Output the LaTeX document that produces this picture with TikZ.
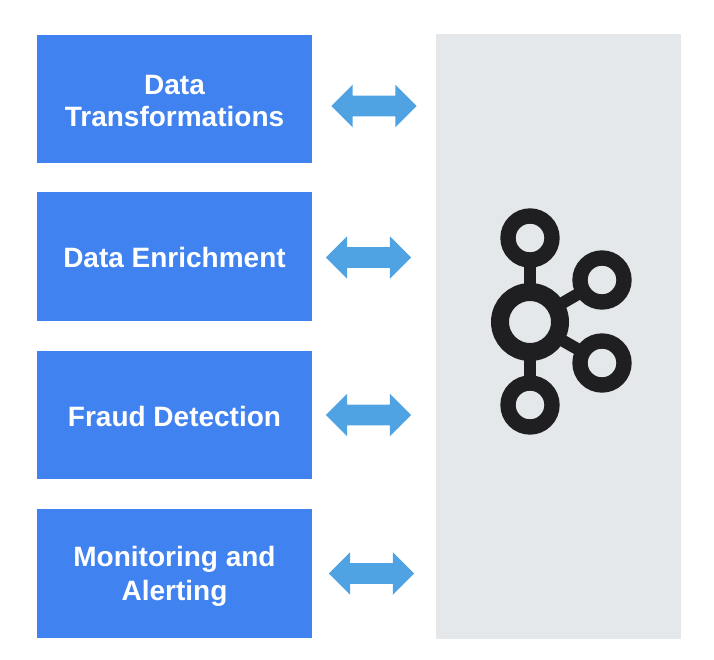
\documentclass[tikz,border=0pt]{standalone}
\usepackage{fontspec}
\setmainfont{Liberation Sans}
\usetikzlibrary{shapes.arrows}
\definecolor{boxblue}{HTML}{3F82F0}
\definecolor{arrowblue}{HTML}{4FA3E3}
\definecolor{panelgrey}{HTML}{E5E8EB}
\definecolor{ringblack}{HTML}{1F1F21}
\newcommand{\dropline}[2]{\raisebox{-#1}[\height][\depth]{#2}}
\tikzset{
  stagebox/.style={rectangle, fill=boxblue, text=white, align=center, minimum width=206.25pt, minimum height=96.5pt, inner sep=0pt, font=\fontsize{21}{24.5}\selectfont\bfseries},
  linkarrow/.style={double arrow, fill=arrowblue, minimum width=31.5pt, minimum height=64pt, inner sep=0pt, text width=0pt, text height=15pt, double arrow head extend=8.25pt, double arrow tip angle=90, double arrow head indent=0pt},
  outerring/.style={circle, draw=ringblack, line width=11.5pt, minimum size=33pt, inner sep=0pt, outer sep=0pt},
  hubring/.style={circle, draw=ringblack, line width=13.5pt, minimum size=45pt, inner sep=0pt, outer sep=0pt},
  spoke/.style={draw=ringblack, line width=9pt}
}
\begin{document}
\begin{tikzpicture}[x=0.75pt, y=-0.75pt]
    \useasboundingbox (0, 0) rectangle (714, 660);

    % Define boxes
    \node [stagebox] (transform) at (174.5, 99) {\dropline{1.5pt}{Data}\\\dropline{1.5pt}{Transformations}};
    \node [stagebox] (enrich) at (174.5, 256.5) {\dropline{0.75pt}{Data Enrichment}};
    \node [stagebox] (fraud) at (174.5, 415) {\dropline{0.75pt}{Fraud Detection}};
    \node [stagebox] (monitor) at (174.5, 573.5) {\dropline{1.5pt}{Monitoring and}\\\dropline{2.25pt}{Alerting}};

    % Define arrows
    \node [linkarrow] (arrow1) at (374, 106) {};
    \node [linkarrow] (arrow2) at (368.5, 257.5) {};
    \node [linkarrow] (arrow3) at (368.5, 415) {};
    \node [linkarrow] (arrow4) at (371.5, 573.5) {};

    % Define panel
    \node [rectangle, fill=panelgrey, minimum width=183.75pt, minimum height=453.75pt, inner sep=0pt] (panel) at (558.5, 336.5) {};

    % Define rings
    \node [hubring] (hub) at (530, 322) {};
    \node [outerring] (top) at (530, 238) {};
    \node [outerring] (upper) at (602, 280) {};
    \node [outerring] (lower) at (602, 363) {};
    \node [outerring] (bottom) at (530, 405) {};

    % Draw spokes
    \draw [spoke] (hub) -- (top);
    \draw [spoke] (hub) -- (upper);
    \draw [spoke] (hub) -- (lower);
    \draw [spoke] (hub) -- (bottom);
\end{tikzpicture}
\end{document}
